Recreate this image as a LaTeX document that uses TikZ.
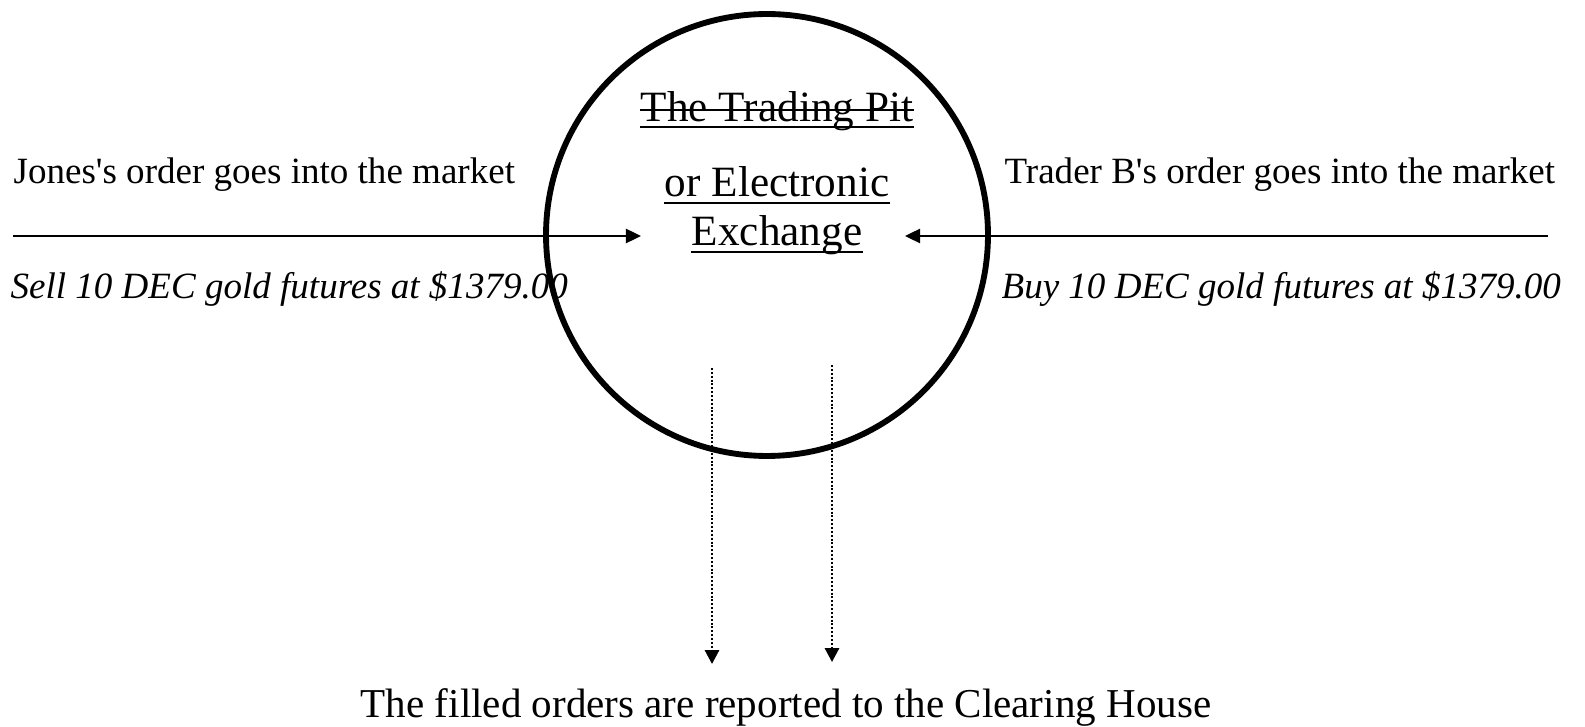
\documentclass[tikz,border=0pt]{standalone}
\usepackage{fontspec}
\setmainfont{Liberation Serif}
\usetikzlibrary{arrows.meta,calc}

\tikzset{
  sidetext/.style={anchor=base west, inner sep=0pt, font=\fontsize{12}{14}\selectfont},
  pittext/.style={anchor=base, inner sep=0pt, font=\fontsize{14}{16}\selectfont},
  orderline/.style={line width=0.7pt, -{Triangle[length=4.9pt,width=4.6pt]}},
  reportline/.style={line width=0.7pt, dash pattern=on 0.65pt off 0.6pt, -{Triangle[length=4.5pt,width=4.6pt]}},
}
% a rule under (or through) the text of a node, #2 below the baseline
\newcommand*{\marktext}[2]{%
\draw[line width=0.55pt] ($(#1.base west)+(0,#2)$) -- ($(#1.base east)+(0,#2)$);}

\begin{document}
\begin{tikzpicture}[x=0.324pt, y=-0.324pt]
\useasboundingbox (0,0) rectangle (1585,727);

\def\cx{767}
\def\cy{235}
\def\ay{236}

% the market
\node[draw, circle, line width=1.9pt, minimum size=143.2pt, inner sep=0pt] (market) at (\cx,\cy) {};

\node[pittext] (pit) at (777,122) {The Trading Pit};
\node[pittext] (elec) at (777,197) {or Electronic};
\node[pittext] (exch) at (777,246) {Exchange};
\marktext{pit}{5}
\marktext{pit}{-12}
\marktext{elec}{6}
\marktext{exch}{6}

% the two orders
\node[sidetext] (jones) at (13,184) {Jones\textquotesingle s order goes into the market};
\node[sidetext] (sell) at (10,299) {\itshape Sell 10 DEC gold futures at \$1379.00};
\node[sidetext] (trader) at (1004,184) {Trader B\textquotesingle s order goes into the market};
\node[sidetext] (buy) at (1001,299) {\itshape Buy 10 DEC gold futures at \$1379.00};

\coordinate (jonesin) at (13,\ay);
\coordinate (jonestip) at (641,\ay);
\coordinate (traderin) at (1548,\ay);
\coordinate (tradertip) at (905,\ay);
\draw[orderline] (jonesin) -- (jonestip);
\draw[orderline] (traderin) -- (tradertip);

% reporting
\node[anchor=base, inner sep=0pt, font=\fontsize{13.3}{16}\selectfont] (report) at (786,717) {The filled orders are reported to the Clearing House};

\coordinate (sellout) at (712,368);
\coordinate (sellend) at (712,664);
\coordinate (buyout) at (832,365);
\coordinate (buyend) at (832,662);
\draw[reportline] (sellout) -- (sellend);
\draw[reportline] (buyout) -- (buyend);
\end{tikzpicture}
\end{document}
